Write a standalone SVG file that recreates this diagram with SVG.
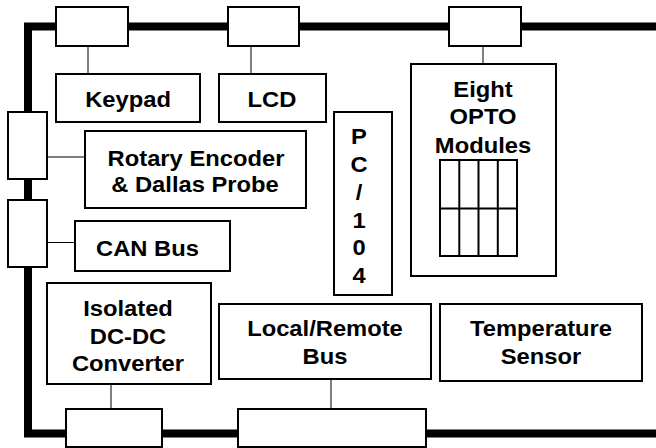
<svg xmlns="http://www.w3.org/2000/svg" width="656" height="448" viewBox="0 0 656 448">
<style>
.box{fill:#fff;stroke:#000;stroke-width:2}
.port{fill:#fff;stroke:#000;stroke-width:2}
.wire{fill:none;stroke:#000;stroke-width:1}
.bus{fill:none;stroke:#000;stroke-width:8;stroke-linejoin:miter}
.grid{fill:none;stroke:#000;stroke-width:2}
text{font-family:"Liberation Sans",Arial,Helvetica,sans-serif;font-weight:bold;font-size:22px;text-anchor:middle;fill:#000}
</style>
<rect width="656" height="448" fill="#fff"/>
<g id="connectors">
<path class="bus" d="M656,26.5 H28 V433.5 H656"/>
<line class="wire" x1="88" y1="46" x2="88" y2="74"/>
<line class="wire" x1="251" y1="46" x2="251" y2="74"/>
<line class="wire" x1="483" y1="46" x2="483" y2="64"/>
<line class="wire" x1="47" y1="157" x2="85" y2="157"/>
<line class="wire" x1="47" y1="242.5" x2="75" y2="242.5"/>
<line class="wire" x1="111" y1="384" x2="111" y2="409"/>
<line class="wire" x1="331" y1="379" x2="331" y2="409"/>
</g>
<g id="port-top-1"><rect class="port" x="56" y="7" width="72" height="39"/></g>
<g id="port-top-2"><rect class="port" x="228" y="7" width="71" height="39"/></g>
<g id="port-top-3"><rect class="port" x="449" y="7" width="72" height="39"/></g>
<g id="port-left-1"><rect class="port" x="8" y="112" width="39" height="67"/></g>
<g id="port-left-2"><rect class="port" x="8" y="200" width="39" height="67"/></g>
<g id="port-bottom-1"><rect class="port" x="66" y="409" width="96" height="38"/></g>
<g id="port-bottom-2"><rect class="port" x="238" y="409" width="188" height="38"/></g>
<g id="keypad"><rect class="box" x="56" y="74" width="144" height="48"/>
<text transform="matrix(1.08 0 0 1 128 0)" x="0" y="107.5">Keypad</text></g>
<g id="lcd"><rect class="box" x="219" y="74" width="107" height="48"/>
<text transform="matrix(1.08 0 0 1 272 0)" x="0" y="107.5">LCD</text></g>
<g id="rotary"><rect class="box" x="85" y="131" width="221" height="77"/>
<text transform="matrix(1.08 0 0 1 196 0)" x="0" y="166">Rotary Encoder</text>
<text transform="matrix(1.08 0 0 1 195 0)" x="0" y="191.7">&amp; Dallas Probe</text></g>
<g id="can"><rect class="box" x="75" y="221" width="155" height="50"/>
<text transform="matrix(1.08 0 0 1 147.5 0)" x="0" y="255.7">CAN Bus</text></g>
<g id="pc104"><rect class="box" x="334" y="112" width="58" height="183"/>
<text transform="matrix(1.08 0 0 1 359 0)" x="0" y="144.3">P</text>
<text transform="matrix(1.08 0 0 1 359 0)" x="0" y="172.2">C</text>
<text transform="matrix(1.08 0 0 1 359 0)" x="0" y="200">/</text>
<text transform="matrix(1.08 0 0 1 359 0)" x="0" y="228.2">1</text>
<text transform="matrix(1.08 0 0 1 359 0)" x="0" y="255.5">0</text>
<text transform="matrix(1.08 0 0 1 359 0)" x="0" y="283.3">4</text></g>
<g id="opto"><rect class="box" x="411" y="64" width="145" height="212"/>
<text transform="matrix(1.08 0 0 1 483 0)" x="0" y="97.3">Eight</text>
<text transform="matrix(1.08 0 0 1 483 0)" x="0" y="124.5">OPTO</text>
<text transform="matrix(1.08 0 0 1 483 0)" x="0" y="153">Modules</text>
<rect class="grid" x="440" y="160" width="77" height="96"/>
<path class="grid" d="M459.3,160 V256 M478.5,160 V256 M497.8,160 V256 M440,208.5 H517"/></g>
<g id="dcdc"><rect class="box" x="47" y="283" width="164" height="101"/>
<text transform="matrix(1.08 0 0 1 128 0)" x="0" y="315.7">Isolated</text>
<text transform="matrix(1.08 0 0 1 128 0)" x="0" y="344">DC-DC</text>
<text transform="matrix(1.08 0 0 1 128 0)" x="0" y="370.7">Converter</text></g>
<g id="localremote"><rect class="box" x="219" y="304" width="212" height="75"/>
<text transform="matrix(1.08 0 0 1 325 0)" x="0" y="335.7">Local/Remote</text>
<text transform="matrix(1.08 0 0 1 325 0)" x="0" y="364">Bus</text></g>
<g id="temperature"><rect class="box" x="440" y="304" width="202" height="77"/>
<text transform="matrix(1.08 0 0 1 541 0)" x="0" y="335.7">Temperature</text>
<text transform="matrix(1.08 0 0 1 541 0)" x="0" y="364">Sensor</text></g>
</svg>
